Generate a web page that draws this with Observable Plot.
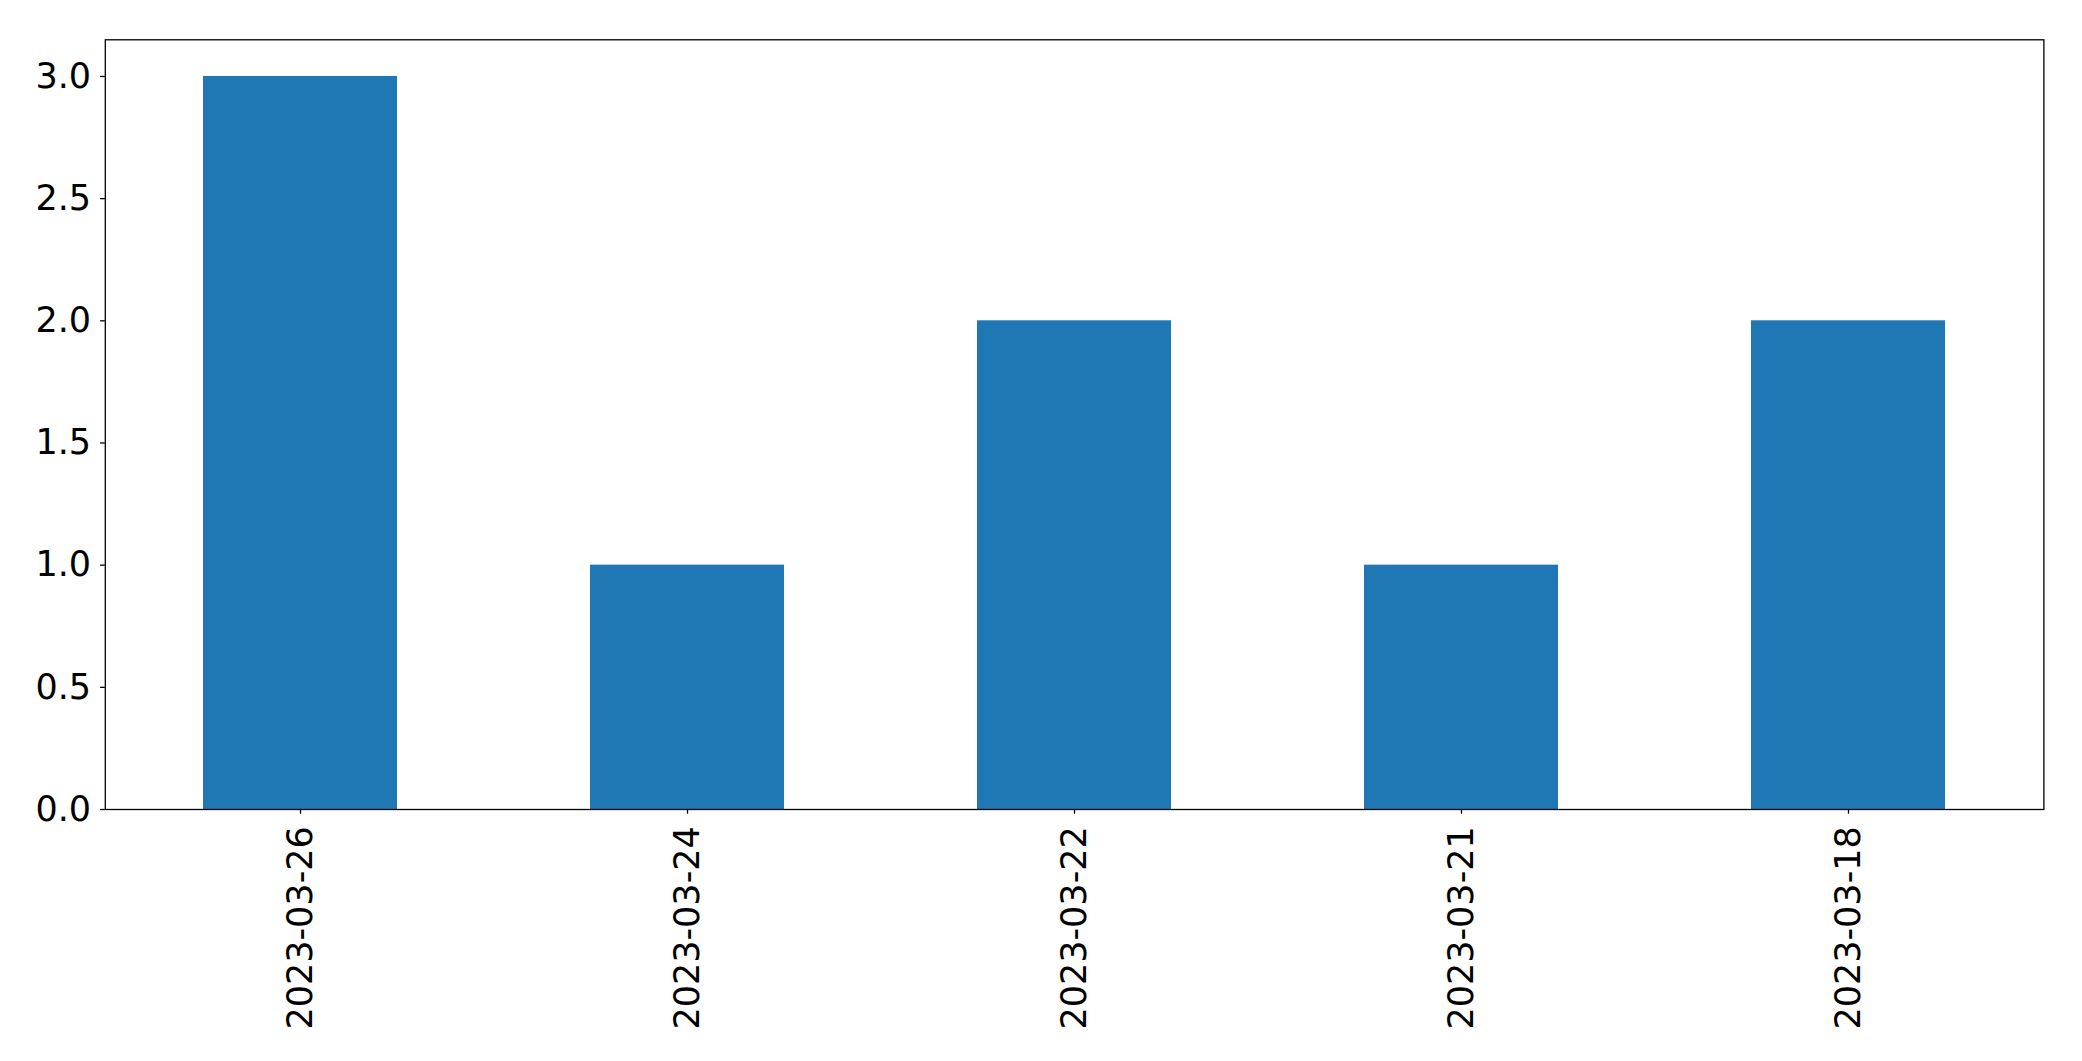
<!DOCTYPE html>
<html>
<head>
<meta charset="utf-8">
<script src="https://cdn.jsdelivr.net/npm/d3@7"></script>
<script src="https://cdn.jsdelivr.net/npm/@observablehq/plot@0.6"></script>
<style>
  html, body { margin: 0; padding: 0; background: #fff; }
  svg { display: block; }
</style>
</head>
<body>
<div id="chart"></div>
<script>
const dates = ["2023-03-26", "2023-03-24", "2023-03-22", "2023-03-21", "2023-03-18"];
const counts = [3, 1, 2, 1, 2];
const yTicks = [0, 0.5, 1.0, 1.5, 2.0, 2.5, 3.0];

const data = dates.map((d, i) => ({date: d, count: counts[i]}));

const chart = Plot.plot({
  width: 2082,
  height: 1061,
  marginLeft: 104.8,
  marginRight: 38.6,
  marginTop: 39.3,
  marginBottom: 252,
  style: {fontFamily: "DejaVu Sans", fontSize: "35px", color: "#000", background: "#fff"},
  x: {domain: dates, paddingInner: 0.5, paddingOuter: 0.25, label: null},
  y: {domain: [0, 3.15], label: null},
  marks: [
    Plot.barY(data, {x: "date", y: "count", fill: "#1f77b4"}),
    Plot.frame({stroke: "#000", strokeWidth: 1.3}),
    Plot.axisY({ticks: yTicks, tickFormat: d3.format(".1f"), tickSize: 4.7, tickPadding: 9.5, fontSize: 35, label: null, strokeWidth: 1.3}),
    Plot.axisX({tickSize: 4.7, tickPadding: 12, tickRotate: -90, fontSize: 35, label: null, strokeWidth: 1.3})
  ]
});
document.getElementById("chart").appendChild(chart);
</script>
</body>
</html>
